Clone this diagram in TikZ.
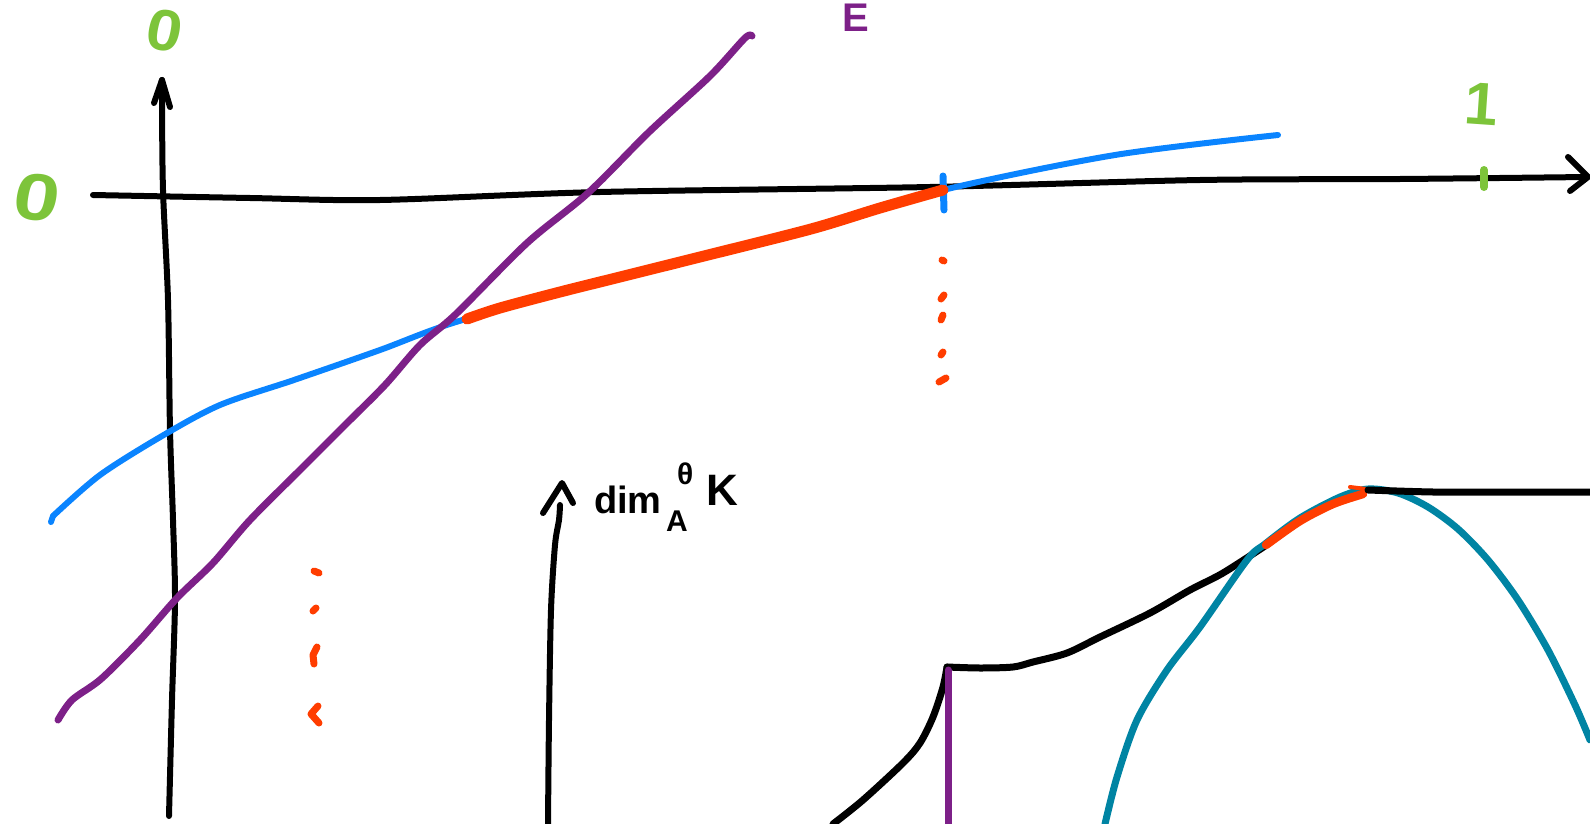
\documentclass[tikz,border=0pt]{standalone}
\usepackage{fontspec}
\setmainfont{Liberation Sans}
\definecolor{cgreen}{HTML}{7DC43A}
\definecolor{cblue}{HTML}{0A84FF}
\definecolor{cpurple}{HTML}{7D2088}
\definecolor{cred}{HTML}{FF3D00}
\definecolor{cteal}{HTML}{0084A3}
\tikzset{
  ink/.style={line cap=round, line join=round},
  axis/.style={ink, black, line width=6pt},
  bluec/.style={ink, cblue, line width=6pt},
  purplec/.style={ink, cpurple, line width=7pt},
  redc/.style={ink, cred, line width=11pt},
  redd/.style={ink, cred, line width=7pt},
  tealc/.style={ink, cteal, line width=7pt},
  blackc/.style={ink, black, line width=7pt},
  glab/.style={text=cgreen, inner sep=0pt},
  klab/.style={text=black, inner sep=0pt},
}
\begin{document}
\begin{tikzpicture}[x=1pt,y=-1pt]
\useasboundingbox (0,0) rectangle (1590,824);
% horizontal axis
\draw[axis] plot[smooth, tension=0.5] coordinates {(93,195) (250,198) (380,200) (600,192) (930,187) (1200,180) (1400,179) (1587,177)};
\draw[axis] (1568,157) -- (1588,177) -- (1570,191);
% vertical axis
\draw[axis] plot[smooth, tension=0.5] coordinates {(169,816) (172,700) (175,600) (173,520) (170,430) (168,300) (163,190) (162,100) (162,80)};
\draw[axis] (154,103) -- (162,80) -- (170,107);
% green tick
\draw[ink, cgreen, line width=8pt] (1484,170) -- (1484,187);
% blue curve
\draw[bluec] plot[smooth, tension=0.5] coordinates {(53,516) (100,475) (162,436) (220,405) (294,380) (380,350) (456,322) (608,279) (811,228) (943,190) (1115,155) (1278,135)};
\draw[bluec] (51,522) -- (53,516);
\draw[ink, cblue, line width=7pt] (943,176) -- (944,210);
% red thick
\draw[redc] plot[smooth, tension=0.5] coordinates {(467,319) (500,308) (560,292) (620,277) (700,257) (811,229) (880,208) (943,190)};
% purple line
\draw[purplec] plot[smooth, tension=0.5] coordinates {(58,720) (72,700) (101,679) (140,640) (177,598) (213,563) (250,520) (304,466) (345,425) (385,385) (420,345) (456,314) (527,243) (588,193) (649,132) (710,76) (745,38) (752,36)};
% red dots right
\draw[redd] (942,260) -- (944,261);
\draw[redd] (941,299) -- (944,295);
\draw[redd] (941,320) -- (943,315);
\draw[redd] (941,355) -- (943,352);
\draw[redd] (939,382) -- (946,378);
% red dots left
\draw[redd] (314,571) -- (319,573);
\draw[redd] (313,611) -- (316,608);
\draw[redd] (314,664) -- (313,655) -- (317,647);
\draw[redd] (318,706) -- (311,714) -- (319,723);
% dim arrow
\draw[axis] plot[smooth, tension=0.5] coordinates {(548,824) (549,720) (551,610) (555,545) (559,520) (560,505)};
\draw[axis] (543,513) -- (562,483) -- (573,503);
% bottom black curve
\draw[blackc] plot[smooth, tension=0.5] coordinates {(833,824) (863,800) (903,763) (920,743) (933,717) (943,687) (947,667)};
\draw[blackc] plot[smooth, tension=0.5] coordinates {(947,667) (980,668) (1013,667) (1033,662) (1067,653) (1100,637) (1150,613) (1190,590) (1223,573) (1265,546)};
% purple vertical
\draw[purplec] (948,670) -- (948,824);
% teal curve
\draw[tealc] plot[smooth, tension=0.5] coordinates {(1105,824) (1117,777) (1137,720) (1167,670) (1200,627) (1247,560) (1265,544) (1300,518) (1340,497) (1368,489) (1398,493) (1428,507) (1458,529) (1488,560) (1518,600) (1548,650) (1575,705) (1590,740)};
% red segment on top
\draw[redc, line width=8.5pt] plot[smooth, tension=0.5] coordinates {(1266,545) (1300,521) (1333,504) (1363,494)};
\draw[ink, cred, line width=4pt] (1350,487) -- (1366,489);
% black flat top
\draw[blackc] plot[smooth, tension=0.5] coordinates {(1368,490) (1433,492) (1500,492) (1590,492)};
% labels
\node[glab, font=\fontsize{66}{66}\selectfont\bfseries, xscale=1.25, rotate=-8] (zeroL) at (37,198) {0};
\node[glab, font=\fontsize{58}{58}\selectfont\bfseries, xscale=1.1, rotate=-10] (zeroT) at (165,31) {0};
\node[glab, font=\fontsize{60}{60}\selectfont\bfseries, rotate=-4] (one) at (1482,104) {1};
\node[text=cpurple, inner sep=0pt, font=\fontsize{40}{40}\selectfont\bfseries, anchor=north west] (E) at (842,4) {E};
\node[klab, font=\fontsize{38}{38}\selectfont\bfseries, anchor=base west] (dim) at (594,513) {dim};
\node[klab, font=\fontsize{30}{30}\selectfont\bfseries, anchor=base west] (subA) at (666,531) {A};
\node[klab, font=\fontsize{30}{30}\selectfont\bfseries, anchor=base west] (theta) at (677,484) {θ};
\node[klab, font=\fontsize{44}{44}\selectfont\bfseries, anchor=base west] (K) at (706,505) {K};
\end{tikzpicture}
\end{document}
